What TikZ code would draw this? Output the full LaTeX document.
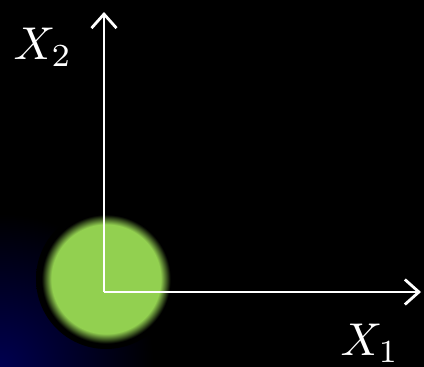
\documentclass[tikz,border=0pt]{standalone}
\usepackage{tikz}
\usetikzlibrary{arrows.meta, positioning}
\definecolor{glowgreen}{HTML}{92D050}
\definecolor{deepnavy}{HTML}{000050}
\pgfdeclareradialshading{greenglow}{\pgfpoint{0bp}{0bp}}{color(0bp)=(glowgreen); color(19.5bp)=(glowgreen); color(23bp)=(black); color(50bp)=(black)}
\pgfdeclareradialshading{cornerglow}{\pgfpoint{0bp}{0bp}}{color(0bp)=(deepnavy); color(24bp)=(black); color(50bp)=(black)}
\tikzstyle{axis} = [draw=white, line width=2.8pt, -{Straight Barb[length=14pt,width=25pt,line width=2.8pt]}]
\tikzstyle{axislabel} = [text=white, inner sep=0pt]
\newcommand{\biglabel}[1]{\scalebox{4.6}{$#1$}}

\begin{document}
\begin{tikzpicture}[x=1pt, y=-1pt]
        
        \fill[black] (0,0) rectangle (424,367);
        \useasboundingbox (0,0) rectangle (424,367);
        \begin{scope}
            \clip (0,0) rectangle (424,367);
            \shade[shading=cornerglow] (0,367) circle (160);
        \end{scope}
        \shade[shading=greenglow] (106,279) circle (70);
        
        \coordinate (origin) at (104,292);
        \coordinate (ytip) at (104,12);
        \coordinate (xtip) at (421,292);
        \node (xtwo) [axislabel] at (43,47) {\biglabel{X_2}};
        \node (xone) [axislabel] at (370,343) {\biglabel{X_1}};
        
        \draw [axis] (origin) -- (ytip);
        \draw [axis] (origin) -- (xtip);

    \end{tikzpicture}
\end{document}
